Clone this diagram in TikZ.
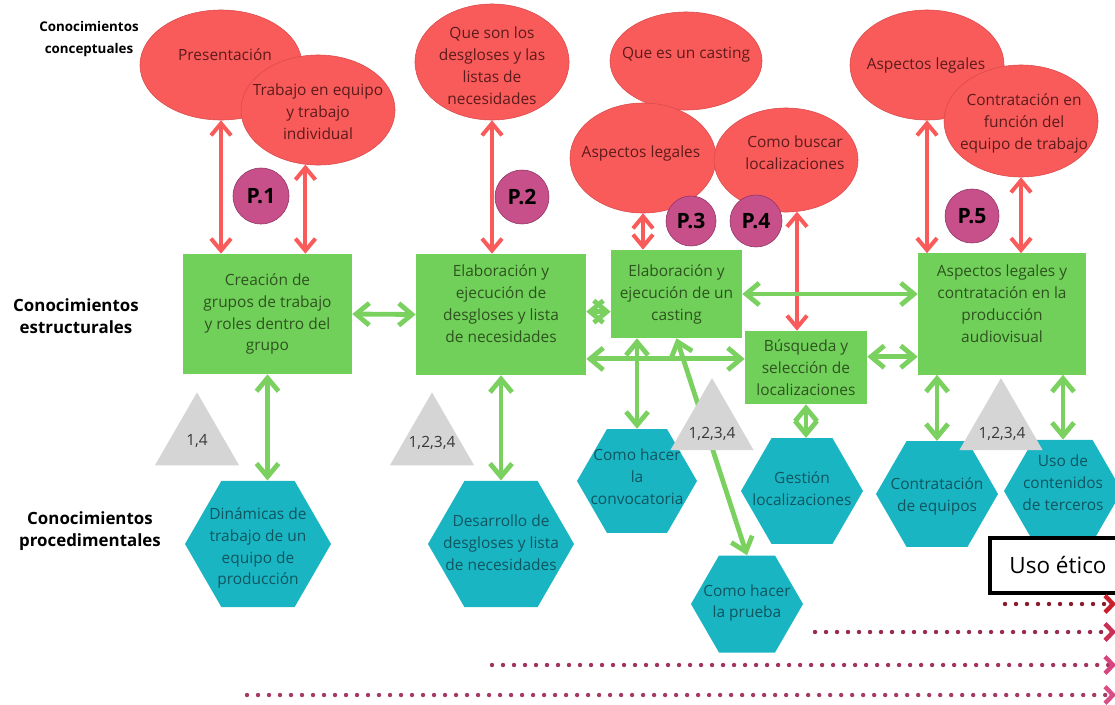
\documentclass[tikz,border=0pt]{standalone}
\usepackage{fontspec}
\setmainfont{Open Sans}
\usepackage{tikz}
\usetikzlibrary{arrows.meta, shapes}

\definecolor{cred}{HTML}{F95B5B}
\definecolor{credline}{HTML}{D94A4A}
\definecolor{credtext}{HTML}{5E1A1A}
\definecolor{cmag}{HTML}{C8508A}
\definecolor{cmagline}{HTML}{8E3262}
\definecolor{cgreen}{HTML}{70D05A}
\definecolor{cgarrow}{HTML}{7AD160}
\definecolor{cgreentext}{HTML}{2F531F}
\definecolor{cteal}{HTML}{1AB5C3}
\definecolor{ctealtext}{HTML}{0F5660}
\definecolor{cgrey}{HTML}{D5D5D5}
\definecolor{cdot1}{HTML}{8B1A2B}
\definecolor{cdot2}{HTML}{982A50}
\definecolor{cdot3}{HTML}{A2335F}
\definecolor{cdot4}{HTML}{A63A66}
\definecolor{carr1}{HTML}{C81F2B}
\definecolor{carr2}{HTML}{CC2F55}
\definecolor{carr3}{HTML}{D6457D}
\definecolor{carr4}{HTML}{D84E86}

\begin{document}
\begin{tikzpicture}[x=0.025cm, y=-0.025cm]
\useasboundingbox (0,0) rectangle (1115,704);

\begin{scope}[every node/.style={align=center, font=\fontsize{12}{15.6}\selectfont\bfseries}]
  \node[font=\fontsize{9.5}{15.6}\selectfont\bfseries] (conc) at (89,39) {Conocimientos\\conceptuales};
  \node (estr) at (76,316) {Conocimientos\\estructurales};
  \node (proc) at (90,531) {Conocimientos\\procedimentales};
\end{scope}

\begin{scope}[every node/.style={ellipse, fill=cred, draw=credline, thin, inner sep=0pt}]
  \node[minimum width=4.05cm, minimum height=2.75cm] (pres) at (221,65) {};
  \node[minimum width=3.85cm, minimum height=2.75cm] (trab) at (318,110) {};
  \node[minimum width=3.85cm, minimum height=2.9cm] (qson) at (492,62) {};
  \node[minimum width=3.8cm, minimum height=2.45cm] (qcas) at (686,61) {};
  \node[minimum width=3.65cm, minimum height=2.75cm] (al3) at (643,158) {};
  \node[minimum width=3.6cm, minimum height=2.6cm] (cbus) at (786,160) {};
  \node[minimum width=3.85cm, minimum height=2.75cm] (al4) at (927,65) {};
  \node[minimum width=3.85cm, minimum height=2.8cm] (cfun) at (1021,121) {};
\end{scope}
\begin{scope}[every node/.style={text=credtext, align=center, font=\fontsize{11}{15.6}\selectfont}]
  \node (prest) at (225,55) {Presentación};
  \node (trabt) at (318,112) {Trabajo en equipo\\y trabajo\\individual};
  \node (qsont) at (492,66) {Que son los\\desgloses y las\\listas de\\necesidades};
  \node (qcast) at (686,55) {Que es un casting};
  \node (al3t) at (641,153) {Aspectos legales};
  \node (cbust) at (795,153) {Como buscar\\localizaciones};
  \node (al4t) at (926,65) {Aspectos legales};
  \node (cfunt) at (1024,123) {Contratación en\\función del\\equipo de trabajo};
\end{scope}

\begin{scope}[every node/.style={rectangle, fill=cgreen, text=cgreentext, align=center, inner sep=0pt, font=\fontsize{11}{15.6}\selectfont}]
  \node[minimum width=4.225cm, minimum height=3cm] (crea) at (267.5,314) {Creación de\\grupos de trabajo\\y roles dentro del\\grupo};
  \node[minimum width=4.25cm, minimum height=3.025cm] (desg) at (501,314.5) {};
  \node[minimum width=3.275cm, minimum height=2.2cm] (cast) at (676.5,294) {Elaboración y\\ejecución de un\\casting};
  \node[minimum width=3.05cm, minimum height=1.825cm] (busq) at (806,367.5) {Búsqueda y\\selección de\\localizaciones};
  \node[minimum width=4.2cm, minimum height=3.025cm] (legl) at (1002,314) {};
  \node[fill=none] (desgt) at (501,304) {Elaboración y\\ejecución de\\desgloses y lista\\de necesidades};
  \node[fill=none] (leglt) at (1002,303.5) {Aspectos legales y\\contratación en la\\producción\\audiovisual};
\end{scope}

\begin{scope}[every node/.style={regular polygon, regular polygon sides=6, fill=cteal, inner sep=0pt}]
  \node[minimum size=3.65cm] (dina) at (258,544) {};
  \node[minimum size=3.65cm] (desa) at (501,544) {};
  \node[minimum size=3cm] (conv) at (637,481) {};
  \node[minimum size=2.8cm] (prue) at (747,604) {};
  \node[minimum size=3.05cm] (gest) at (802,491) {};
  \node[minimum size=3.05cm] (cequ) at (937,494) {};
  \node[minimum size=2.95cm] (uso) at (1063,491) {};
\end{scope}
\begin{scope}[every node/.style={text=ctealtext, align=center, font=\fontsize{11}{15.6}\selectfont}]
  \node (dinat) at (258,548) {Dinámicas de\\trabajo de un\\equipo de\\producción};
  \node (desat) at (501,543) {Desarrollo de\\desgloses y lista\\de necesidades};
  \node (convt) at (637,477) {Como hacer\\la\\convocatoria};
  \node (pruet) at (747,603) {Como hacer\\la prueba};
  \node (gestt) at (802,489) {Gestión\\localizaciones};
  \node (cequt) at (937,496) {Contratación\\de equipos};
  \node (usot) at (1063,483) {Uso de\\contenidos\\de terceros};
\end{scope}

\begin{scope}[>={Straight Barb[length=0.3cm, width=0.5cm]},
              every edge/.style={draw=cred, line width=0.1cm}]
    \path [<->] (pres.south) edge (crea.north -| pres.south);
    \path [<->] (trab.257) edge (crea.north -| trab.257);
    \path [<->] (qson.south) edge (desg.north -| qson.south);
    \path [<->] (al3.south) edge (cast.north -| al3.south);
    \path [<->] (cbus.282) edge (busq.north -| cbus.282);
    \path [<->] (al4.south) edge (legl.north -| al4.south);
    \path [<->] (cfun.south) edge (legl.north -| cfun.south);
\end{scope}

\begin{scope}[>={Straight Barb[length=0.33cm, width=0.55cm]},
              every edge/.style={draw=cgarrow, line width=0.12cm}]
    \path [<->] (crea.east) edge (desg.west);
    \path [<->] (cast.195) edge (desg.east |- cast.195);
    \path [<->] (cast.east) edge (legl.west |- cast.east);
    \path [<->] (busq.172) edge (desg.east |- busq.172);
    \path [<->] (busq.10) edge (legl.west |- busq.10);
    \path [<->] (crea.south) edge (dina.north -| crea.south);
    \path [<->] (desg.south) edge (desa.north -| desg.south);
    \path [<->] (cast.south -| conv.north) edge (conv.north);
    \path [<->] (cast.south) edge (prue.north);
    \path [<->] (busq.south) edge (gest.north -| busq.south);
    \path [<->] (legl.south -| cequ.north) edge (cequ.north);
    \path [<->] (legl.south -| uso.north) edge (uso.north);
\end{scope}

\begin{scope}[every node/.style={circle, fill=cmag, draw=cmagline, inner sep=0pt, font=\fontsize{15}{15}\selectfont\bfseries}]
  \node[minimum size=1.4cm] (p1) at (261,196) {P.1};
  \node[minimum size=1.35cm] (p2) at (522,197) {P.2};
  \node[minimum size=1.25cm] (p3) at (691,221) {P.3};
  \node[minimum size=1.3cm] (p4) at (756,221) {P.4};
  \node[minimum size=1.35cm] (p5) at (972,216) {P.5};
\end{scope}

\begin{scope}[every node/.style={regular polygon, regular polygon sides=3, fill=cgrey, inner sep=0pt}]
  \node[minimum size=2.43cm] (t1) at (197,441) {};
  \node[minimum size=2.43cm] (t2) at (432,441) {};
  \node[minimum size=2.4cm] (t3) at (712,426) {};
  \node[minimum size=2.4cm] (t4) at (1001,426) {};
\end{scope}
\begin{scope}[every node/.style={text=black!78, font=\fontsize{11}{13}\selectfont}]
  \node (t1t) at (197,441) {1,4};
  \node (t2t) at (432,443) {1,2,3,4};
  \node (t3t) at (712,434) {1,2,3,4};
  \node (t4t) at (1002,434) {1,2,3,4};
\end{scope}

\node[draw=black, line width=0.1cm, fill=white, minimum width=3.4cm, minimum height=1.375cm,
      font=\fontsize{16}{16}\selectfont] (etic) at (1058,565) {Uso ético};

% dotted arrows to the right edge
\coordinate (d1s) at (1005,604); \coordinate (d1e) at (1116,604);
\coordinate (d2s) at (815,632);  \coordinate (d2e) at (1116,632);
\coordinate (d3s) at (492,665);  \coordinate (d3e) at (1116,665);
\coordinate (d4s) at (247,695);  \coordinate (d4e) at (1116,695);
\begin{scope}[every path/.style={line width=0.11cm, line cap=round, dash pattern=on 0pt off 0.275cm}]
  \draw[cdot1, -{Straight Barb[length=0.2cm, width=0.42cm, color=carr1]}] (d1s) -- (d1e);
  \draw[cdot2, -{Straight Barb[length=0.2cm, width=0.42cm, color=carr2]}] (d2s) -- (d2e);
  \draw[cdot3, -{Straight Barb[length=0.2cm, width=0.42cm, color=carr3]}] (d3s) -- (d3e);
  \draw[cdot4, -{Straight Barb[length=0.2cm, width=0.42cm, color=carr4]}] (d4s) -- (d4e);
\end{scope}
\end{tikzpicture}
\end{document}
